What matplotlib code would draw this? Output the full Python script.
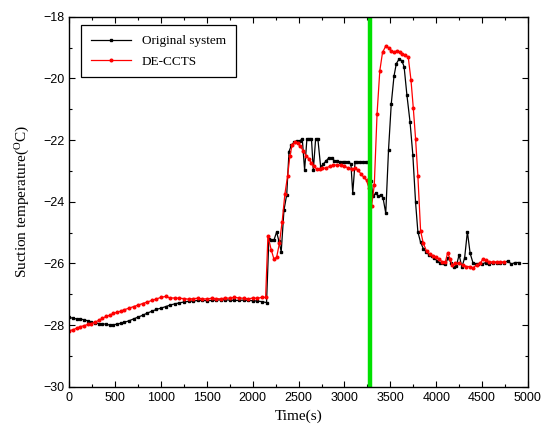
import matplotlib
matplotlib.use("Agg")
import matplotlib.pyplot as plt
from matplotlib.ticker import MultipleLocator

# Original system
orig_t = [0, 40, 80, 120, 160, 200, 240, 280, 320, 360, 400, 440, 480, 520, 560, 600,
          650, 700, 750, 800, 850, 900, 950, 1000, 1050, 1100, 1150, 1200, 1250, 1300,
          1350, 1400, 1450, 1500, 1550, 1600, 1650, 1700, 1750, 1800, 1850, 1900, 1950,
          2000, 2050, 2100, 2150, 2175, 2200, 2230, 2260, 2285, 2310, 2340, 2370, 2395,
          2420, 2450, 2480, 2510, 2540, 2565, 2590, 2615, 2640, 2660, 2685, 2710, 2740,
          2770, 2800, 2830, 2860, 2890, 2920, 2950, 2980, 3010, 3040, 3070, 3090, 3115,
          3140, 3170, 3200, 3230, 3260, 3290, 3310, 3340, 3370, 3400, 3420, 3450, 3480,
          3510, 3540, 3565, 3595, 3625, 3650, 3680, 3715, 3745, 3775, 3800, 3830, 3860,
          3890, 3920, 3950, 3980, 4010, 4040, 4070, 4100, 4130, 4160, 4190, 4220, 4250,
          4280, 4310, 4340, 4370, 4400, 4430, 4460, 4500, 4540, 4580, 4620, 4660, 4700,
          4740, 4780, 4820, 4860, 4900]
orig_v = [-27.75, -27.78, -27.8, -27.8, -27.83, -27.86, -27.9, -27.93, -27.95, -27.96,
          -27.97, -28.0, -27.99, -27.97, -27.94, -27.91, -27.86, -27.8, -27.74, -27.68,
          -27.61, -27.55, -27.49, -27.45, -27.4, -27.35, -27.31, -27.28, -27.25, -27.23,
          -27.22, -27.2, -27.2, -27.21, -27.2, -27.19, -27.18, -27.18, -27.19, -27.2,
          -27.2, -27.19, -27.2, -27.21, -27.22, -27.24, -27.27, -25.22, -25.25, -25.25,
          -24.98, -25.28, -25.62, -24.27, -23.77, -22.37, -22.17, -22.07, -22.02, -22.02,
          -21.97, -22.97, -21.97, -21.97, -21.97, -22.97, -21.97, -21.97, -22.87, -22.77,
          -22.67, -22.57, -22.57, -22.67, -22.67, -22.72, -22.72, -22.7, -22.7, -22.77,
          -23.72, -22.72, -22.7, -22.7, -22.7, -22.7, -22.72, -23.32, -23.82, -23.72,
          -23.82, -23.77, -23.87, -24.37, -22.32, -20.82, -19.92, -19.52, -19.37, -19.42,
          -19.62, -20.52, -21.42, -22.47, -24.02, -24.97, -25.32, -25.52, -25.62, -25.72,
          -25.77, -25.82, -25.92, -25.97, -25.97, -26.02, -25.82, -25.97, -26.12, -26.07,
          -25.72, -26.12, -25.82, -24.97, -25.67, -25.97, -26.02, -26.02, -26.02, -25.97,
          -26.02, -25.97, -25.97, -25.97, -25.97, -25.92, -26.02, -25.97, -25.97]

# DE-CCTS
new_t = [0, 40, 80, 120, 160, 200, 240, 280, 320, 360, 400, 440, 480, 520, 560, 600,
         650, 700, 750, 800, 850, 900, 950, 1000, 1050, 1100, 1150, 1200, 1250, 1300,
         1350, 1400, 1450, 1500, 1550, 1600, 1650, 1700, 1750, 1800, 1850, 1900, 1950,
         2000, 2050, 2100, 2140, 2165, 2200, 2230, 2260, 2290, 2320, 2350, 2380, 2405,
         2430, 2460, 2490, 2520, 2550, 2580, 2610, 2640, 2670, 2700, 2730, 2760, 2800,
         2840, 2880, 2920, 2960, 3000, 3040, 3080, 3120, 3150, 3180, 3210, 3240, 3265,
         3295, 3325, 3355, 3385, 3415, 3450, 3480, 3510, 3540, 3570, 3600, 3630, 3660,
         3695, 3725, 3750, 3775, 3800, 3830, 3860, 3895, 3930, 3960, 4000, 4030, 4065,
         4100, 4125, 4150, 4175, 4210, 4250, 4290, 4330, 4370, 4400, 4440, 4480, 4510,
         4540, 4580, 4620, 4660, 4700, 4740]
new_v = [-28.18, -28.15, -28.1, -28.05, -28.02, -27.98, -27.95, -27.9, -27.85, -27.78,
         -27.72, -27.68, -27.62, -27.58, -27.55, -27.5, -27.45, -27.4, -27.35, -27.3,
         -27.25, -27.2, -27.15, -27.1, -27.07, -27.12, -27.12, -27.13, -27.14, -27.16,
         -27.14, -27.13, -27.15, -27.15, -27.13, -27.14, -27.15, -27.12, -27.13, -27.1,
         -27.12, -27.13, -27.15, -27.12, -27.13, -27.1, -27.1, -25.1, -25.55, -25.85,
         -25.8, -25.35, -24.65, -23.75, -23.15, -22.5, -22.15, -22.05, -22.1, -22.2,
         -22.35, -22.5, -22.6, -22.75, -22.85, -22.95, -22.95, -22.92, -22.9, -22.85,
         -22.82, -22.8, -22.82, -22.85, -22.9, -22.95, -22.92, -22.98, -23.1, -23.2,
         -23.3, -23.55, -24.15, -23.45, -21.15, -19.75, -19.15, -18.95, -19.0, -19.1,
         -19.15, -19.1, -19.15, -19.2, -19.25, -19.3, -20.05, -20.95, -21.95, -23.15,
         -24.95, -25.35, -25.6, -25.7, -25.75, -25.8, -25.85, -25.95, -25.95, -25.65,
         -25.85, -26.05, -26.0, -26.0, -26.05, -26.1, -26.1, -26.15, -26.05, -26.0,
         -25.85, -25.9, -25.95, -25.95, -25.95, -25.95, -25.95]

switch_time = 3280

fig = plt.figure(figsize=(5.42, 4.43), dpi=100)
ax = fig.add_axes([0.128, 0.127, 0.846, 0.835])

ax.plot(orig_t, orig_v, color="black", linewidth=0.9, marker="s", markersize=1.7,
        label="Original system")
ax.plot(new_t, new_v, color="red", linewidth=0.9, marker="o", markersize=1.9,
        label="DE-CCTS")
ax.axvline(switch_time, color="#00e000", linewidth=3.2)

ax.set_xlim(0, 5000)
ax.set_ylim(-30, -18)
ax.xaxis.set_major_locator(MultipleLocator(500))
ax.xaxis.set_minor_locator(MultipleLocator(250))
ax.yaxis.set_major_locator(MultipleLocator(2))
ax.yaxis.set_minor_locator(MultipleLocator(1))
ax.tick_params(which="both", direction="in", top=True, right=True, width=0.8,
               labelsize=9)
ax.tick_params(which="major", length=4.5)
ax.tick_params(which="minor", length=2.5)
for lab in ax.get_xticklabels() + ax.get_yticklabels():
    lab.set_family("Liberation Sans")
for sp in ax.spines.values():
    sp.set_linewidth(1.0)

ax.set_xlabel("Time(s)", family="Liberation Serif", fontsize=11)
ax.set_ylabel("Suction temperature($\\mathregular{^{O}}$C)", family="Liberation Serif",
              fontsize=11, labelpad=8)

leg = ax.legend(loc="upper left", bbox_to_anchor=(0.012, 0.995), fancybox=False,
                edgecolor="black", framealpha=1, handlelength=3.0,
                prop={"family": "Liberation Serif", "size": 9.5},
                borderpad=0.75, labelspacing=0.6)
leg.get_frame().set_linewidth(0.9)

fig.savefig("out.png", dpi=100)
